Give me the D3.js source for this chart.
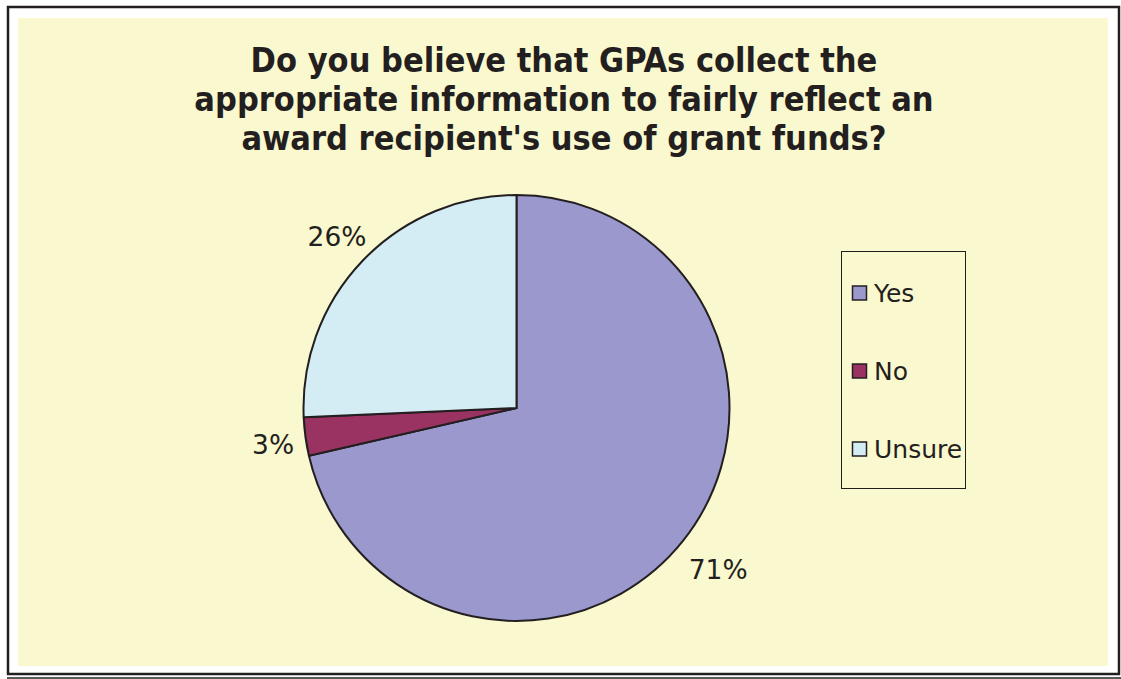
<!DOCTYPE html>
<html><head><meta charset="utf-8">
<script src="https://cdn.jsdelivr.net/npm/d3@7/dist/d3.min.js"></script>
<style>body{margin:0;background:#fff}svg{display:block}</style>
</head><body>
<script>
const titleLines = ["Do you believe that GPAs collect the", "appropriate information to fairly reflect an", "award recipient's use of grant funds?"];
const categories = ["Yes", "No", "Unsure"];
const values = [71.4, 2.9, 25.7];
const colors = ["#9a98cc", "#9a3362", "#d4ecf4"];

const W = 1121, H = 679;
const svg = d3.select("body").append("svg").attr("width", W).attr("height", H);
svg.append("rect").attr("width", W).attr("height", H).attr("fill", "#fff");
svg.append("rect").attr("x", 8).attr("y", 7).attr("width", 1111).attr("height", 667)
  .attr("fill", "#fff").attr("stroke", "#231f20").attr("stroke-width", 2.5);
svg.append("line").attr("x1", 7).attr("x2", 1121).attr("y1", 678).attr("y2", 678)
  .attr("stroke", "#231f20").attr("stroke-width", 1.5);
svg.append("rect").attr("x", 18).attr("y", 18).attr("width", 1090).attr("height", 648).attr("fill", "#faf8ce");

const font = "'DejaVu Sans Condensed', 'DejaVu Sans', sans-serif";
const font2 = "'DejaVu Sans', Verdana, sans-serif";
svg.append("g").selectAll("text").data(titleLines).join("text")
  .attr("x", 564).attr("y", (d, i) => 72 + i * 39)
  .attr("text-anchor", "middle").attr("font-family", font).attr("font-weight", "bold")
  .attr("font-size", 34).attr("fill", "#231f20").text(d => d);

const cx = 516.5, cy = 408, r = 213;
const total = d3.sum(values);
const pie = d3.pie().sort(null).value(d => d.v);
const arcs = pie(categories.map((c, i) => ({c, v: values[i], col: colors[i]})));
const arc = d3.arc().innerRadius(0).outerRadius(r);
const g = svg.append("g").attr("transform", `translate(${cx},${cy})`);
g.selectAll("path").data(arcs).join("path").attr("d", arc)
  .attr("fill", d => d.data.col).attr("stroke", "#231f20").attr("stroke-width", 2).attr("stroke-linejoin", "round");

const labels = g.selectAll("text").data(arcs).join("text")
  .attr("text-anchor", "middle").attr("dy", "0.36em")
  .attr("font-family", font2).attr("font-size", 26.5).attr("fill", "#231f20")
  .text(d => Math.round(d.data.v / total * 100) + "%");
labels.attr("transform", function(d) {
  const bb = this.getBBox();
  const a = (d.startAngle + d.endAngle) / 2;
  const ux = Math.sin(a), uy = -Math.cos(a);
  const dist = r + 14 + Math.abs(ux) * bb.width / 2 + Math.abs(uy) * bb.height * 0.2;
  return `translate(${ux * dist + 3},${uy * dist + 3})`;
});

const lg = svg.append("g");
lg.append("rect").attr("x", 841.5).attr("y", 251.5).attr("width", 124).attr("height", 237)
  .attr("fill", "none").attr("stroke", "#231f20").attr("stroke-width", 1);
const ly = d3.scalePoint().domain(categories).range([293, 449]);
const items = lg.selectAll("g").data(categories).join("g").attr("transform", d => `translate(852,${ly(d)})`);
items.append("rect").attr("x", 0.5).attr("y", -7).attr("width", 14).attr("height", 14)
  .attr("fill", (d, i) => colors[i]).attr("stroke", "#231f20").attr("stroke-width", 1.5);
items.append("text").attr("x", 22).attr("dy", "0.36em").attr("font-family", font2).attr("font-size", 25)
  .attr("fill", "#231f20").text(d => d);
</script>
</body></html>
